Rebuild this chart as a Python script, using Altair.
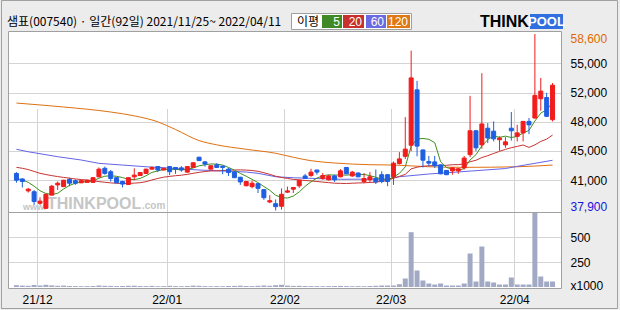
import altair as alt
import pandas as pd

# ---------------- data ----------------
idx = list(range(92))
opens = [42250, 41600, 40200, 40100, 38750, 38150, 39700, 40900, 40700, 41550,
         41400, 41150, 41200, 41200, 41850, 42850, 42450, 41750, 41300, 40950,
         41850, 42000, 42250, 42750, 43050, 42650, 43050, 42950, 42900, 42400,
         42950, 44150, 43600, 42750, 43250, 43100, 42750, 42400, 41800, 40800,
         40700, 41050, 40350, 38900, 38700, 38400, 40050, 40400, 40800, 41950,
         42000, 42650, 41650, 41500, 41950, 41850, 42950, 41950, 42300, 41300,
         41500, 41650, 42100, 42100, 41850, 43400, 44250, 45550, 52050, 45000,
         43650, 43600, 43250, 42600, 42550, 42550, 42900, 44450, 47250, 45600,
         47550, 47200, 46200, 45600, 47550, 46600, 47000, 48350, 48750, 51000,
         51150, 48550]
highs = [42400, 41650, 40550, 40300, 39450, 39850, 40900, 41300, 41500, 41750,
         41550, 41450, 41500, 41800, 42950, 43050, 42650, 41800, 41400, 41800,
         42850, 42400, 42800, 43050, 43100, 42900, 43100, 43000, 43100, 43100,
         43550, 44200, 43700, 43200, 43450, 43150, 42900, 42450, 41850, 41350,
         41400, 41100, 40400, 39700, 39200, 40500, 40700, 40650, 41500, 42200,
         42800, 42650, 42300, 42100, 42100, 42750, 43000, 42550, 42350, 42300,
         42400, 42700, 42500, 42150, 43650, 44750, 48850, 56650, 53100, 45050,
         44300, 44300, 43300, 42650, 42950, 42850, 44300, 51350, 47350, 54000,
         48150, 48350, 46600, 46500, 49450, 47950, 48400, 48750, 58600, 53450,
         51700, 52850]
lows = [41150, 40600, 40000, 38550, 38550, 38100, 39700, 40300, 40650, 40750,
        40900, 41100, 41150, 41150, 41800, 42100, 41300, 41100, 40600, 40900,
        41450, 41950, 42200, 42700, 42400, 42600, 42050, 42200, 42450, 42350,
        42900, 43700, 43050, 42700, 42900, 42150, 41950, 41700, 40900, 40750,
        40500, 39950, 39150, 38750, 37900, 38000, 39950, 39950, 40550, 41600,
        41850, 42100, 41500, 41400, 41250, 41800, 42150, 41850, 41800, 41100,
        41250, 41000, 41100, 40750, 40900, 43300, 43950, 44850, 44250, 42950,
        43100, 42900, 42150, 42050, 42100, 42200, 42700, 44150, 44850, 45150,
        45800, 46000, 44900, 45250, 46100, 46000, 46000, 46850, 48650, 49600,
        48850, 48350]
closes = [41450, 41300, 40400, 38950, 39000, 39800, 40750, 41100, 41450, 41100,
          41100, 41400, 41450, 41750, 42750, 42250, 41650, 41150, 41000, 41750,
          42050, 42350, 42750, 42950, 42650, 42850, 42450, 42750, 42650, 43050,
          43500, 43750, 43350, 43150, 42950, 42950, 42350, 41750, 41250, 41300,
          41100, 40500, 39400, 39050, 38350, 39800, 40200, 40600, 41450, 41650,
          42400, 42400, 42000, 41950, 41500, 42550, 42200, 42400, 41850, 41650,
          41850, 41250, 41300, 41300, 43450, 43950, 45100, 53450, 45450, 43800,
          43450, 43150, 42200, 42100, 42900, 42800, 44050, 47250, 45250, 48050,
          46400, 46300, 46400, 45950, 47250, 47000, 48350, 47950, 51400, 51900,
          48950, 52600]
# volume in thousands of shares
volumes = [18, 14, 12, 20, 15, 22, 16, 12, 14, 10, 9, 8, 9, 10, 15, 12, 11, 9, 10, 12,
           13, 10, 9, 11, 8, 9, 12, 9, 8, 10, 14, 12, 9, 8, 9, 8, 10, 11, 13, 10,
           9, 12, 15, 12, 18, 22, 14, 11, 12, 10, 9, 9, 8, 9, 10, 11, 9, 8, 9, 8,
           10, 12, 15, 15, 15, 28, 85, 548, 165, 65, 35, 25, 35, 15, 15, 15, 35, 335, 55, 405,
           55, 45, 25, 25, 95, 25, 25, 25, 745, 105, 55, 55]

ma5 = [41650, 41500, 41200, 40750, 40220, 39890, 39780, 39920, 40420, 40840,
       41100, 41230, 41300, 41360, 41690, 41920, 41970, 41910, 41760, 41560,
       41520, 41660, 41980, 42370, 42550, 42710, 42730, 42730, 42670, 42750,
       42880, 43140, 43260, 43360, 43340, 43230, 42950, 42630, 42250, 41920,
       41550, 41180, 40710, 40270, 39680, 39420, 39360, 39600, 40080, 40740,
       41260, 41700, 41980, 42080, 42050, 42080, 42040, 42120, 42100, 42130,
       41990, 41800, 41580, 41470, 41830, 42250, 43020, 45450, 46280, 46350,
       46250, 45860, 43610, 42940, 42760, 42630, 42810, 43820, 44450, 45480,
       46200, 46650, 46480, 46620, 46460, 46580, 46990, 47300, 48390, 49320,
       49710, 50560]
ma20 = [42960, 42850, 42700, 42480, 42260, 42120, 41990, 41880, 41780, 41690,
        41600, 41530, 41470, 41380, 41290, 41210, 41140, 41090, 41070, 41080,
        41110, 41160, 41280, 41480, 41660, 41810, 41900, 41980, 42040, 42140,
        42260, 42380, 42470, 42540, 42550, 42590, 42620, 42650, 42660, 42640,
        42590, 42500, 42330, 42140, 41920, 41770, 41660, 41550, 41490, 41420,
        41370, 41300, 41230, 41170, 41100, 41080, 41070, 41100, 41130, 41150,
        41190, 41230, 41320, 41430, 41690, 41900, 42140, 42780, 42980, 43090,
        43140, 43180, 43190, 43200, 43270, 43280, 43370, 43620, 43790, 44110,
        44330, 44590, 44840, 45070, 45260, 45420, 45580, 45300, 45600, 46000,
        46270, 46750]
ma60_idx = [0, 2, 7, 11, 14, 18, 22, 25, 28, 31, 39, 41, 44, 47, 55, 63, 65, 70, 77, 83, 85, 88, 91]
ma60 = [45080, 44790, 44210, 43820, 43430, 43230, 43030, 42920, 42760, 42650, 42410, 42260,
        41860, 41740, 41560, 41590, 41860, 42180, 42520, 42820, 43080, 43430, 43790]
ma120_idx = [0, 8, 16, 20, 24, 27, 31, 34, 39, 44, 47, 50, 54, 60, 64, 70, 76, 85, 91]
ma120 = [50500, 50040, 49450, 49000, 48300, 47400, 46100, 45600, 45080, 44610, 44140, 43740,
         43470, 43270, 43230, 43030, 42960, 43030, 43230]

month_pos = [3.5, 25.5, 45.5, 63.5, 84.5]
month_labels = ["21/12", "22/01", "22/02", "22/03", "22/04"]
price_grid = [41443, 44879, 48303, 51739, 55164]
price_grid_labels = ["41,000", "45,000", "48,000", "52,000", "55,000"]
price_max, price_min = 58600, 37900
vol_ticks = [0, 250, 500]
vol_labels = ["x1000", "250", "500"]

title_text = "샘표(007540) · 일간(92일) 2021/11/25~ 2022/04/11"
legend_items = ["5", "20", "60", "120"]

# ---------------- layout / style ----------------
PL, PT = 8, 31
W, H = 553, 257
KFONT = "Noto Sans CJK KR"
NFONT = "Liberation Sans"
UP, DOWN = "#f21c1c", "#1e5fe2"
C5, C20, C60, C120 = "#3f8f1f", "#c83232", "#6464e8", "#e07010"
LEG = ["#3f8a24", "#c8302c", "#6a6ae2", "#e07814"]
GRID = "#d4d4d4"

def expr_map(vals, labels, default="datum.label"):
    s = default
    for v, l in reversed(list(zip(vals, labels))):
        s = f"datum.value == {v} ? '{l}' : ({s})"
    return s

df = pd.DataFrame(dict(i=idx, open=opens, high=highs, low=lows, close=closes, vol=volumes, ma5=ma5, ma20=ma20))
df["dir"] = ["up" if c >= o else "down" for o, c in zip(opens, closes)]
d60 = pd.DataFrame(dict(i=ma60_idx, v=ma60))
d120 = pd.DataFrame(dict(i=ma120_idx, v=ma120))
one = pd.DataFrame({"a": [0]})

xscale = alt.Scale(domain=[-0.5, 91.5], range=[0.5, 552.5])
pscale = alt.Scale(domain=[price_min, price_max], range=[179.5, 3])
vscale = alt.Scale(domain=[0, 750], range=[256, 181])

x_axis = alt.Axis(values=month_pos, labelExpr=expr_map(month_pos, month_labels), grid=True,
                  gridColor=GRID, ticks=False, tickSize=0, domain=False, labelPadding=6,
                  labelFont=NFONT, labelFontSize=12, labelColor="#000000", labelFlush=False,
                  labelOverlap=False, title=None, orient="bottom")
p_vals = price_grid + [price_max, price_min]
p_labels = price_grid_labels + ["58,600", "37,900"]
price_axis = alt.Axis(
    orient="right", values=p_vals, labelExpr=expr_map(p_vals, p_labels), grid=True, gridColor=GRID,
    gridOpacity={"condition": {"test": f"datum.value == {price_max} || datum.value == {price_min}", "value": 0}, "value": 1},
    ticks=False, tickSize=0, domain=False, labelPadding=9, labelFont=NFONT, labelFontSize=12,
    labelColor={"condition": [{"test": f"datum.value == {price_max}", "value": "#e06a00"},
                              {"test": f"datum.value == {price_min}", "value": "#1414e0"}], "value": "#000000"},
    labelOffset={"condition": [{"test": f"datum.value == {price_max}", "value": 4},
                               {"test": f"datum.value == {price_min}", "value": -4}], "value": 0},
    labelOverlap=False, labelBaseline="middle", title=None)
vol_axis = alt.Axis(
    orient="right", values=vol_ticks, labelExpr=expr_map(vol_ticks, vol_labels), grid=True, gridColor=GRID,
    gridOpacity={"condition": {"test": "datum.value == 0", "value": 0}, "value": 1},
    ticks=False, tickSize=0, domain=False, labelPadding=9, labelFont=NFONT, labelFontSize=12,
    labelColor="#000000", labelOffset={"condition": {"test": "datum.value == 0", "value": -2}, "value": 0},
    labelOverlap=False, labelBaseline="middle", title=None)

X = alt.X("i:Q", scale=xscale, axis=x_axis)
dir_color = alt.Color("dir:N", scale=alt.Scale(domain=["up", "down"], range=[UP, DOWN]), legend=None)
dir_stroke = alt.Stroke("dir:N", scale=alt.Scale(domain=["up", "down"], range=[UP, DOWN]), legend=None)

base = alt.Chart(df)
l5 = base.mark_line(strokeWidth=1, color=C5).encode(x=X, y=alt.Y("ma5:Q", scale=pscale, axis=price_axis))
l20 = base.mark_line(strokeWidth=1, color=C20).encode(x=X, y=alt.Y("ma20:Q", scale=pscale, axis=price_axis))
l60 = alt.Chart(d60).mark_line(strokeWidth=1, color=C60).encode(x=X, y=alt.Y("v:Q", scale=pscale, axis=price_axis))
l120 = alt.Chart(d120).mark_line(strokeWidth=1, color=C120, interpolate="monotone").encode(
    x=X, y=alt.Y("v:Q", scale=pscale, axis=price_axis))
wick = base.mark_rule(strokeWidth=1).encode(x=X, y=alt.Y("low:Q", scale=pscale, axis=price_axis), y2="high:Q", color=dir_color)
body = base.mark_bar(size=4, strokeWidth=1).encode(x=X, y=alt.Y("open:Q", scale=pscale, axis=price_axis), y2="close:Q",
                                                  color=dir_color, stroke=dir_stroke)

def txt(text, x, y, size=12, color="#000000", weight="normal", align="left", font=KFONT, opacity=1):
    return alt.Chart(one).mark_text(text=text, align=align, baseline="middle", fontSize=size, color=color,
                                    fontWeight=weight, font=font, opacity=opacity).encode(
        x=alt.value(x - PL), y=alt.value(y - PT))

def box(x1, y1, x2, y2, fill, stroke=None):
    kw = dict(fill=fill)
    if stroke:
        kw.update(stroke=stroke, strokeWidth=1)
    return alt.Chart(one).mark_rect(**kw).encode(x=alt.value(x1 - PL), x2=alt.value(x2 - PL),
                                                 y=alt.value(y1 - PT), y2=alt.value(y2 - PT))

WM = "#c6c6c6"
watermark = [txt("www.", 23, 207, size=9, color=WM, weight="bold", font=NFONT),
             txt("THINKPOOL", 47, 204, size=16, color=WM, weight="bold", font=NFONT),
             txt(".com", 142, 206, size=10, color=WM, weight="bold", font=NFONT)]

price = alt.layer(*watermark, l120, l60, l20, l5, wick, body)

vol = alt.Chart(df).mark_bar(size=5, color="#a2a9c5").encode(x=X, y=alt.Y("vol:Q", scale=vscale, axis=vol_axis))

sep = alt.Chart(one).mark_rule(color="#a0a0a0", strokeWidth=1).encode(
    x=alt.value(0), x2=alt.value(W), y=alt.value(181.5))

header = [txt(title_text, 7, 21.5, size=12),
          box(291.5, 13.5, 411.5, 29.5, "#ffffff", "#a0a0a0"),
          txt("이평", 297, 21.5, size=12)]
lx = [(322, 342), (343, 364), (366, 386), (387, 410)]
for (a, b), c, t in zip(lx, LEG, legend_items):
    header.append(box(a, 15, b, 28, c))
    header.append(txt(t, b - 2, 21.5, size=12, color="#ffffff", align="right", font=NFONT))
header += [txt("THINK", 480, 21.5, size=16, weight="bold", font=NFONT),
           box(530, 14, 563, 29, "#2f6fe0"),
           txt("POOL", 546.5, 21.5, size=13, weight="bold", color="#ffffff", align="center", font=NFONT)]
frame = alt.Chart(one).mark_rect(fill=None, stroke="#a0a0a0", strokeWidth=1).encode(
    x=alt.value(1.5 - PL), x2=alt.value(617.5 - PL), y=alt.value(0.5 - PT), y2=alt.value(308.5 - PT))

chart = alt.layer(price, vol, sep, *header, frame).resolve_scale(y="independent").properties(
    width=W, height=H,
    padding={"left": PL, "top": PT, "right": 620 - PL - W, "bottom": 310 - PT - H},
    autosize=alt.AutoSizeParams(type="none"),
    background="#ececec",
).configure_view(stroke="#a0a0a0", strokeWidth=1, fill="#ffffff")

chart.save("out.html", embed_options={"renderer": "svg", "actions": False})
